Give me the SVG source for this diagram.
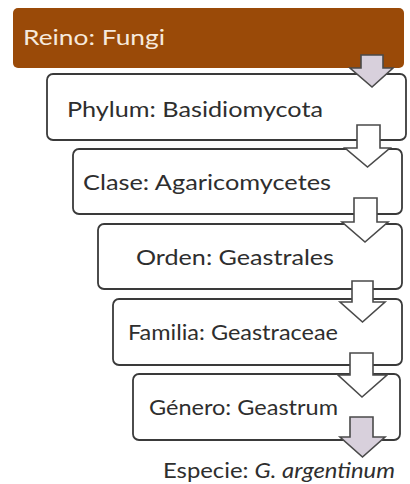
<svg xmlns="http://www.w3.org/2000/svg" width="410" height="484" viewBox="0 0 410 484">
<style>
.box{fill:#ffffff;stroke:#3a3a3a;stroke-width:1.8}
.lbl{font-family:Lato,"Open Sans","Liberation Sans",sans-serif;font-size:21.5px;fill:#2e2e2e}
.arr{fill:#ffffff;stroke:#4a4a4a;stroke-width:1.6;stroke-linejoin:miter}
.arr.lav{fill:#d8d0dc}
</style>
<rect width="410" height="484" fill="#ffffff"/>
<g id="reino">
<rect x="13" y="8" width="391" height="60" rx="5" fill="#9a4a08"/>
<text class="lbl" x="23" y="45" style="fill:#f6e9dc" textLength="142" lengthAdjust="spacingAndGlyphs">Reino: Fungi</text>
</g>
<g id="phylum">
<rect class="box" x="47" y="74" width="359" height="66" rx="6"/>
<text class="lbl" x="67" y="117" textLength="256" lengthAdjust="spacingAndGlyphs">Phylum: Basidiomycota</text>
</g>
<g id="clase">
<rect class="box" x="73" y="149" width="329" height="65" rx="6"/>
<text class="lbl" x="83" y="190" textLength="248" lengthAdjust="spacingAndGlyphs">Clase: Agaricomycetes</text>
</g>
<g id="orden">
<rect class="box" x="98" y="224" width="304" height="65" rx="6"/>
<text class="lbl" x="136" y="265" textLength="198" lengthAdjust="spacingAndGlyphs">Orden: Geastrales</text>
</g>
<g id="familia">
<rect class="box" x="113" y="299" width="289" height="66" rx="6"/>
<text class="lbl" x="128" y="340" textLength="210" lengthAdjust="spacingAndGlyphs">Familia: Geastraceae</text>
</g>
<g id="genero">
<rect class="box" x="133" y="374" width="267" height="66" rx="6"/>
<text class="lbl" x="149" y="415" textLength="189" lengthAdjust="spacingAndGlyphs">Género: Geastrum</text>
</g>
<g id="especie">
<text class="lbl" x="163" y="478" textLength="232" lengthAdjust="spacingAndGlyphs">Especie: <tspan font-style="italic">G. argentinum</tspan></text>
</g>
<g id="connectors">
<polygon class="arr lav" points="361,55 383,55 383,68 393,68 372,87 350,68 361,68"/>
<polygon class="arr" points="357,125 380,125 380,148 390,148 367.5,167 345,148 357,148"/>
<polygon class="arr" points="354,198 377,198 377,222 388,222 365,242 342,222 354,222"/>
<polygon class="arr" points="352,281 373,281 373,302 385,302 362.5,322 340,302 352,302"/>
<polygon class="arr" points="350,353 373,353 373,375 387,375 362,397 338,375 350,375"/>
<polygon class="arr lav" points="350,417 373,417 373,437 385,437 362.5,457 340,437 350,437"/>
</g>
</svg>
